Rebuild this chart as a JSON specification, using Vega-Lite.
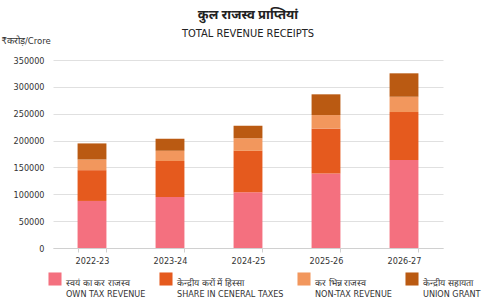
{
  "$schema": "https://vega.github.io/schema/vega-lite/v6.json",
  "width": 390,
  "height": 188,
  "autosize": "none",
  "padding": {"left": 53, "top": 60, "right": 42, "bottom": 56},
  "background": "white",
  "title": {
    "text": "कुल राजस्व प्राप्तियां",
    "subtitle": "TOTAL REVENUE RECEIPTS",
    "anchor": "middle",
    "frame": "group",
    "font": "Noto Sans",
    "fontSize": 13,
    "fontWeight": "bold",
    "color": "#222222",
    "subtitleFont": "DejaVu Sans Condensed",
    "subtitleFontSize": 11,
    "subtitleColor": "#222222",
    "subtitlePadding": 6,
    "offset": -4
  },
  "data": {
    "values": [
      {"year": "2022-23", "series": "स्वयं का कर राजस्व|OWN TAX REVENUE", "rank": 1, "value": 87600},
      {"year": "2022-23", "series": "केन्द्रीय करों में हिस्सा|SHARE IN CENERAL TAXES", "rank": 2, "value": 57300},
      {"year": "2022-23", "series": "कर भिन्न राजस्व|NON-TAX REVENUE", "rank": 3, "value": 19900},
      {"year": "2022-23", "series": "केन्द्रीय सहायता|UNION GRANT", "rank": 4, "value": 29900},
      {"year": "2023-24", "series": "स्वयं का कर राजस्व|OWN TAX REVENUE", "rank": 1, "value": 95100},
      {"year": "2023-24", "series": "केन्द्रीय करों में हिस्सा|SHARE IN CENERAL TAXES", "rank": 2, "value": 67100},
      {"year": "2023-24", "series": "कर भिन्न राजस्व|NON-TAX REVENUE", "rank": 3, "value": 18700},
      {"year": "2023-24", "series": "केन्द्रीय सहायता|UNION GRANT", "rank": 4, "value": 22400},
      {"year": "2024-25", "series": "स्वयं का कर राजस्व|OWN TAX REVENUE", "rank": 1, "value": 103900},
      {"year": "2024-25", "series": "केन्द्रीय करों में हिस्सा|SHARE IN CENERAL TAXES", "rank": 2, "value": 77000},
      {"year": "2024-25", "series": "कर भिन्न राजस्व|NON-TAX REVENUE", "rank": 3, "value": 23400},
      {"year": "2024-25", "series": "केन्द्रीय सहायता|UNION GRANT", "rank": 4, "value": 23300},
      {"year": "2025-26", "series": "स्वयं का कर राजस्व|OWN TAX REVENUE", "rank": 1, "value": 138700},
      {"year": "2025-26", "series": "केन्द्रीय करों में हिस्सा|SHARE IN CENERAL TAXES", "rank": 2, "value": 84000},
      {"year": "2025-26", "series": "कर भिन्न राजस्व|NON-TAX REVENUE", "rank": 3, "value": 24800},
      {"year": "2025-26", "series": "केन्द्रीय सहायता|UNION GRANT", "rank": 4, "value": 38600},
      {"year": "2026-27", "series": "स्वयं का कर राजस्व|OWN TAX REVENUE", "rank": 1, "value": 163600},
      {"year": "2026-27", "series": "केन्द्रीय करों में हिस्सा|SHARE IN CENERAL TAXES", "rank": 2, "value": 89500},
      {"year": "2026-27", "series": "कर भिन्न राजस्व|NON-TAX REVENUE", "rank": 3, "value": 28500},
      {"year": "2026-27", "series": "केन्द्रीय सहायता|UNION GRANT", "rank": 4, "value": 43600}
    ]
  },
  "mark": {"type": "bar"},
  "encoding": {
    "x": {
      "field": "year",
      "type": "nominal",
      "scale": {"paddingInner": 0.63, "paddingOuter": 0.315},
      "axis": {
        "title": null,
        "labelAngle": 0,
        "labelFont": "DejaVu Sans Condensed",
        "labelFontSize": 9,
        "labelColor": "#333333",
        "labelPadding": 4,
        "domainColor": "#d0d0d0",
        "tickColor": "#d0d0d0",
        "tickBand": "extent",
        "tickSize": 4,
        "grid": false
      }
    },
    "y": {
      "field": "value",
      "type": "quantitative",
      "stack": "zero",
      "scale": {"domain": [0, 350000]},
      "axis": {
        "values": [0, 50000, 100000, 150000, 200000, 250000, 300000, 350000],
        "format": "d",
        "title": "₹करोड़/Crore",
        "titleAngle": 0,
        "titleAlign": "left",
        "titleBaseline": "middle",
        "titleX": -52,
        "titleY": -20,
        "titleFont": "DejaVu Sans Condensed",
        "titleFontSize": 9.5,
        "titleFontWeight": "normal",
        "titleColor": "#333333",
        "labelFont": "DejaVu Sans Condensed",
        "labelFontSize": 9,
        "labelColor": "#333333",
        "labelPadding": 9,
        "ticks": false,
        "domain": false,
        "gridColor": "#e0e0e0"
      }
    },
    "color": {
      "field": "series",
      "type": "nominal",
      "scale": {
        "domain": [
          "स्वयं का कर राजस्व|OWN TAX REVENUE",
          "केन्द्रीय करों में हिस्सा|SHARE IN CENERAL TAXES",
          "कर भिन्न राजस्व|NON-TAX REVENUE",
          "केन्द्रीय सहायता|UNION GRANT"
        ],
        "range": ["#F4707F", "#E55A1E", "#F2975D", "#BA5A12"]
      },
      "legend": {
        "title": null,
        "orient": "none",
        "legendX": -5,
        "legendY": 212,
        "direction": "horizontal",
        "columns": 4,
        "columnPadding": 13,
        "symbolType": "square",
        "symbolSize": 170,
        "symbolStrokeWidth": 0,
        "labelExpr": "split(datum.label, '|')",
        "labelFont": "DejaVu Sans Condensed",
        "labelFontSize": 9,
        "labelColor": "#333333",
        "labelLimit": 0,
        "labelOffset": 4,
        "labelBaseline": "top",
        "labelLineHeight": 14
      }
    },
    "order": {"field": "rank", "type": "quantitative"}
  },
  "config": {"view": {"stroke": null}}
}
